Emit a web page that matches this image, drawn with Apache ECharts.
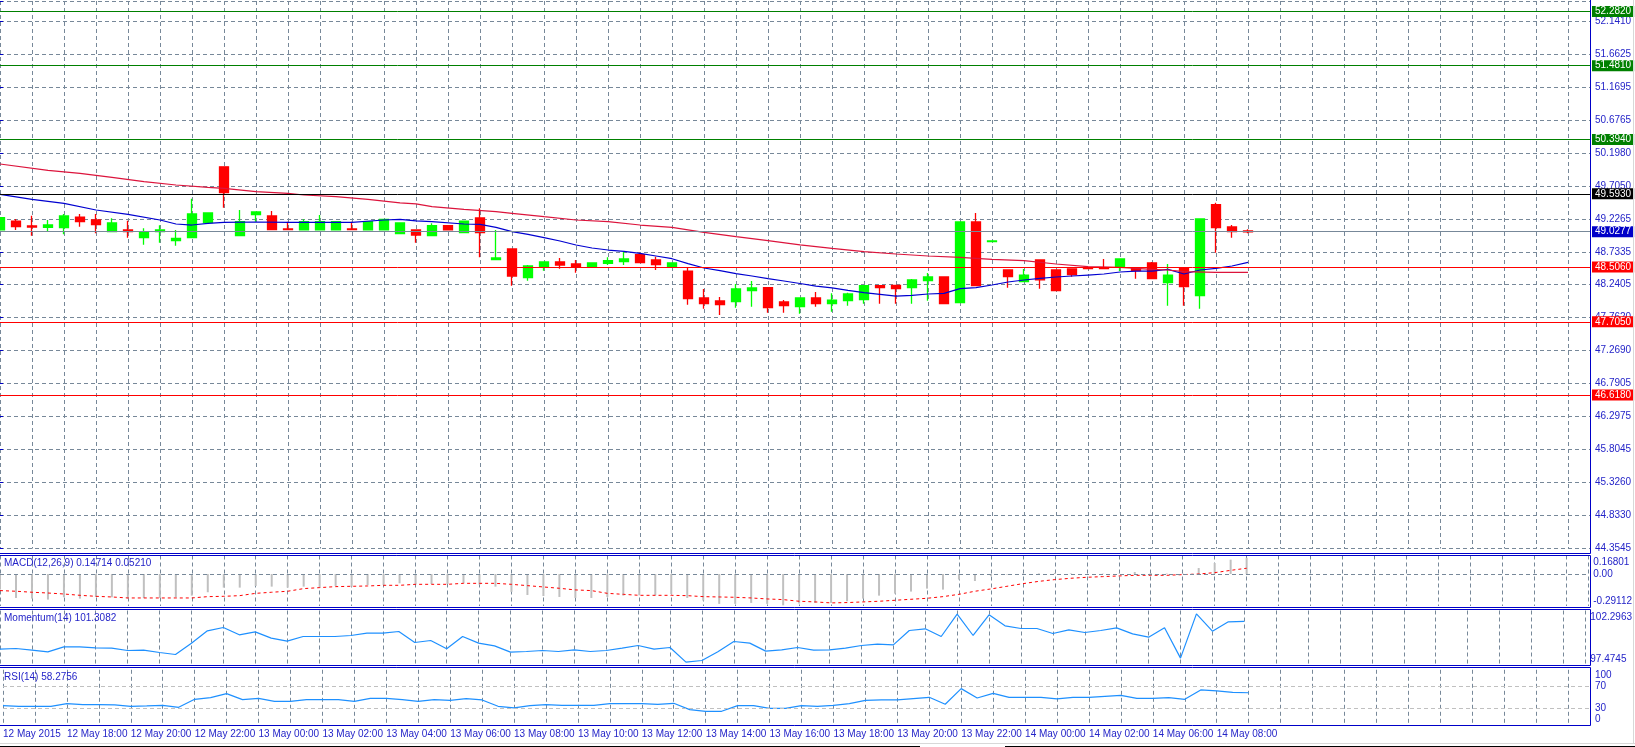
<!DOCTYPE html>
<html><head><meta charset="utf-8">
<script src="https://cdn.jsdelivr.net/npm/echarts@6/dist/echarts.min.js"></script>
<style>html,body{margin:0;padding:0;background:#fff;overflow:hidden}#c{width:1635px;height:747px}</style>
</head><body><div id="c"></div>
<script>
// ---------- data ----------
const xTickLabels = ['12 May 2015','12 May 18:00','12 May 20:00','12 May 22:00','13 May 00:00','13 May 02:00','13 May 04:00','13 May 06:00','13 May 08:00','13 May 10:00','13 May 12:00','13 May 14:00','13 May 16:00','13 May 18:00','13 May 20:00','13 May 22:00','14 May 00:00','14 May 02:00','14 May 06:00','14 May 08:00'];
const yTickLabels = ['44.3545','44.8330','45.3260','45.8045','46.2975','46.7905','47.2690','47.7620','48.2405','48.7335','49.2265','49.7050','50.1980','50.6765','51.1695','51.6625','52.1410'];
const opens  = [49.056,49.188,49.115,49.095,49.090,49.247,49.203,49.031,49.056,48.942,49.031,48.898,48.942,49.164,49.988,48.972,49.282,49.262,49.070,49.056,49.056,49.056,49.070,49.056,49.056,49.001,49.056,48.972,49.120,49.016,49.233,48.618,48.775,48.352,48.505,48.583,48.554,48.510,48.564,48.588,48.692,48.613,48.505,48.450,48.052,48.008,47.998,48.160,48.205,47.993,47.924,48.052,47.968,48.012,48.027,48.234,48.239,48.205,48.308,48.362,47.983,49.174,48.883,48.465,48.293,48.613,48.465,48.480,48.500,48.500,48.514,48.500,48.569,48.278,48.500,48.086,49.430,49.100,49.041];
const closes = [49.238,49.105,49.100,49.130,49.262,49.179,49.134,49.159,49.031,49.021,49.056,48.933,49.292,49.307,49.607,49.179,49.321,49.061,49.061,49.179,49.179,49.179,49.061,49.179,49.213,49.159,48.982,49.120,49.056,49.188,49.016,48.642,48.377,48.524,48.583,48.539,48.505,48.569,48.603,48.628,48.573,48.544,48.569,48.042,47.968,47.954,48.185,48.200,47.909,47.939,48.052,47.968,48.022,48.111,48.234,48.205,48.190,48.318,48.362,47.968,49.174,48.234,48.893,48.367,48.391,48.318,48.160,48.396,48.485,48.485,48.628,48.455,48.337,48.391,48.219,49.218,49.090,49.031,49.0277];
const lows   = [49.040,49.056,48.972,49.031,48.992,49.105,49.006,49.026,48.942,48.839,48.869,48.824,48.935,49.160,49.385,48.970,49.179,49.060,49.060,49.055,49.055,49.055,49.060,49.055,49.055,49.000,48.869,48.971,49.055,49.015,48.652,48.617,48.234,48.308,48.455,48.485,48.426,48.509,48.539,48.539,48.572,48.465,48.504,47.954,47.894,47.801,47.909,47.924,47.835,47.835,47.821,47.924,47.850,47.939,47.968,47.968,47.968,47.968,48.012,47.967,47.982,48.233,48.882,48.205,48.292,48.190,48.159,48.367,48.484,48.484,48.450,48.337,48.336,47.939,47.939,47.894,48.721,48.942,49.006];
const highs  = [49.245,49.218,49.267,49.203,49.292,49.292,49.292,49.228,49.193,49.080,49.124,49.056,49.518,49.310,49.990,49.351,49.322,49.336,49.179,49.213,49.277,49.180,49.179,49.180,49.214,49.160,49.057,49.154,49.121,49.189,49.375,49.056,48.778,48.539,48.584,48.642,48.613,48.578,48.652,48.736,48.721,48.662,48.570,48.505,48.185,48.067,48.259,48.303,48.206,48.022,48.053,48.140,48.121,48.131,48.235,48.235,48.240,48.332,48.421,48.363,49.175,49.307,48.895,48.466,48.480,48.614,48.466,48.481,48.501,48.628,48.629,48.501,48.583,48.554,48.501,49.219,49.459,49.130,49.066];
const maFast = [[0,49.582],[2,49.508],[4,49.449],[6,49.351],[8,49.287],[10,49.203],[11,49.144],[12,49.129],[13,49.154],[14,49.169],[16,49.174],[18,49.169],[20,49.169],[22,49.169],[24,49.203],[25,49.213],[26,49.190],[27,49.179],[29,49.144],[30,49.139],[31,49.095],[32,49.031],[33,48.992],[34,48.942],[35,48.893],[36,48.834],[37,48.790],[38,48.760],[39,48.741],[40,48.711],[41,48.672],[42,48.632],[43,48.559],[44,48.495],[45,48.455],[46,48.411],[47,48.377],[48,48.337],[49,48.303],[50,48.266],[51,48.227],[52,48.200],[53,48.165],[54,48.131],[55,48.106],[56,48.081],[57,48.091],[58,48.111],[59,48.121],[60,48.190],[61,48.205],[62,48.244],[63,48.288],[64,48.318],[65,48.342],[66,48.362],[67,48.377],[68,48.391],[69,48.406],[70,48.436],[71,48.450],[72,48.450],[73,48.475],[74,48.406],[75,48.465],[76,48.490],[77,48.524],[78,48.578]];
const maSlow = [[0,50.030],[3,49.936],[5,49.892],[7,49.833],[9,49.769],[11,49.720],[13,49.685],[14,49.671],[16,49.621],[18,49.597],[19,49.572],[21,49.548],[23,49.508],[25,49.456],[26,49.440],[27,49.400],[29,49.361],[31,49.326],[32,49.302],[34,49.252],[36,49.203],[38,49.179],[40,49.129],[42,49.095],[44,49.021],[46,48.957],[48,48.898],[50,48.836],[52,48.785],[54,48.736],[56,48.701],[58,48.672],[60,48.652],[62,48.622],[64,48.603],[66,48.554],[68,48.514],[70,48.505],[72,48.475],[73,48.465],[74,48.441],[76,48.431],[78,48.431]];
const levelValues = [52.2820,51.4810,50.3940,49.5930,49.0277,48.5060,47.7050,46.6180];
const levelLabels = ['52.2820','51.4810','50.3940','49.5930','49.0277','48.5060','47.7050','46.6180'];
const macdHist = [-0.142,-0.218,-0.224,-0.233,-0.212,-0.224,-0.209,-0.212,-0.224,-0.218,-0.218,-0.212,-0.197,-0.166,-0.124,-0.124,-0.109,-0.115,-0.124,-0.115,-0.124,-0.109,-0.115,-0.100,-0.100,-0.085,-0.092,-0.091,-0.091,-0.082,-0.097,-0.115,-0.163,-0.191,-0.200,-0.209,-0.218,-0.218,-0.209,-0.197,-0.194,-0.194,-0.182,-0.218,-0.242,-0.272,-0.272,-0.263,-0.272,-0.285,-0.269,-0.263,-0.263,-0.248,-0.224,-0.197,-0.179,-0.160,-0.133,-0.142,-0.051,-0.064,-0.020,-0.005,0.003,0.005,0.010,0.005,-0.003,0.003,0.002,0.018,0.009,0.004,0.004,0.054,0.100,0.130,0.14714];
const macdSignal = [-0.151,-0.157,-0.166,-0.173,-0.182,-0.194,-0.203,-0.209,-0.218,-0.218,-0.218,-0.218,-0.218,-0.206,-0.203,-0.197,-0.176,-0.166,-0.157,-0.133,-0.124,-0.115,-0.112,-0.109,-0.103,-0.103,-0.094,-0.094,-0.094,-0.085,-0.085,-0.085,-0.094,-0.106,-0.118,-0.130,-0.145,-0.151,-0.176,-0.185,-0.194,-0.194,-0.194,-0.197,-0.206,-0.209,-0.212,-0.218,-0.227,-0.233,-0.248,-0.254,-0.263,-0.260,-0.254,-0.248,-0.239,-0.230,-0.221,-0.206,-0.185,-0.157,-0.136,-0.112,-0.088,-0.067,-0.051,-0.039,-0.030,-0.024,-0.018,-0.012,-0.012,-0.012,-0.006,0.000,0.012,0.033,0.0521];
const momentum = [98.813,98.873,98.723,98.573,99.023,99.023,98.933,98.903,98.693,98.723,98.513,98.333,99.353,100.465,100.765,100.104,100.374,99.804,99.533,99.954,99.954,99.954,100.044,100.254,100.254,100.404,99.413,99.594,98.843,99.954,99.353,99.113,98.543,98.603,98.693,98.603,98.753,98.603,98.693,98.903,99.143,98.813,98.963,97.642,97.792,98.573,99.504,99.353,98.633,98.753,98.963,98.723,98.753,98.903,99.143,99.263,99.203,100.495,100.645,99.954,101.966,100.044,101.906,100.915,100.675,100.675,100.224,100.555,100.314,100.495,100.735,100.194,99.894,100.735,98.002,101.996,100.435,101.275,101.3082];
const rsi = [34.85,33.64,33.64,33.64,38.48,36.67,36.67,36.06,33.64,34.24,35.45,31.82,46.36,49.39,56.67,45.76,48.18,42.73,42.73,45.76,45.76,45.76,42.73,48.18,48.18,45.76,42.73,45.76,44.55,47.58,45.15,33.64,30.61,34.85,36.67,35.45,35.45,35.45,38.48,38.48,38.48,37.27,39.09,27.58,24.55,24.55,34.85,34.85,30.00,30.00,34.85,33.64,35.45,38.48,44.55,45.15,45.15,47.58,50.00,37.27,65.76,48.79,57.27,50.00,50.00,50.00,46.97,50.00,50.00,51.82,53.64,48.18,48.18,49.39,46.36,63.33,61.52,59.09,58.28];
const macdRange = [-0.29112, 0.16801];
const momRange = [97.4745, 102.2963];
const rsiLevels = [30, 70];
const titles = ['MACD(12,26,9) 0.14714 0.05210', 'Momentum(14) 101.3082', 'RSI(14) 58.2756'];

// ---------- styles / layout ----------
const FONT = 'Liberation Sans';
const FS = 10;
const TXT = '#2424c8';
const BORDER = '#0000c8';
const GRIDC = '#778899';
const levelColors = ['#008000','#008000','#008000','#000000','#0000c8','#ff0000','#ff0000','#ff0000'];
const levelLineColors = ['#008000','#008000','#008000','#000000','#778899','#ff0000','#ff0000','#ff0000'];
const XMAX = 99.375;
const yMin = 44.3545, yStep = (52.1410 - 44.3545) / 16;
const mainTop = 1, mainBottomY = 548.5;
const pxPerUnit = 67.75;
const yMax = yMin + (mainBottomY - mainTop) / pxPerUnit;

const candleData = opens.map((o, i) => [i, o, closes[i], lows[i], highs[i]]);
const idx = opens.map((_, i) => i);

const chart = echarts.init(document.getElementById('c'), null, {renderer: 'canvas'});
const grids = [
  {left: 0, right: 45, top: mainTop, height: mainBottomY - mainTop},
  {left: 0, right: 45, top: 555.5, height: 50.5},
  {left: 0, right: 45, top: 610.5, height: 53.5},
  {left: 0, right: 45, top: 669.8, height: 55}
];
function xAx(i, showLabels) {
  return {
    type: 'value', gridIndex: i, min: 0, max: XMAX, interval: 2,
    axisLine: {show: false}, axisTick: {show: false},
    splitLine: {show: true, lineStyle: {color: GRIDC, type: [4, 3], width: 1}},
    axisLabel: showLabels ? {
      show: true, align: 'left', margin: 4, fontFamily: FONT, fontSize: FS, color: TXT,
      showMinLabel: true, showMaxLabel: true,
      formatter: v => {
        const r = Math.round(v);
        if (Math.abs(v - r) < 1e-6 && r % 4 === 0 && r / 4 < xTickLabels.length) return xTickLabels[r / 4];
        return '';
      }
    } : {show: false}
  };
}
const lab = {fontFamily: FONT, fontSize: FS, color: TXT};
const rich = {t: {...lab, padding: [14, 0, 0, 0]}, b: {...lab, padding: [0, 0, 10, 0]}};
function near(a, b) { return Math.abs(a - b) < 1e-7; }

const option = {
  animation: false,
  backgroundColor: '#ffffff',
  title: titles.map((t, i) => ({
    text: t, left: 4, top: [558.5, 613.5, 672][i], padding: 0,
    textStyle: {fontFamily: FONT, fontSize: FS, color: TXT, fontWeight: 'normal'}
  })),
  grid: grids,
  xAxis: [xAx(0, false), xAx(1, false), xAx(2, false), xAx(3, true)],
  yAxis: [
    {
      type: 'value', gridIndex: 0, position: 'right', min: yMin, max: yMax, interval: yStep, scale: true,
      axisLine: {show: false},
      axisTick: {show: true, length: 3, lineStyle: {color: BORDER}},
      splitLine: {show: true, lineStyle: {color: GRIDC, type: [4, 3], width: 1}},
      axisLabel: {
        ...lab, margin: 5, showMinLabel: true, showMaxLabel: true,
        formatter: v => {
          const k = Math.round((v - yMin) / yStep);
          if (k >= 0 && k < yTickLabels.length && Math.abs(v - (yMin + k * yStep)) < 1e-6) return yTickLabels[k];
          return '';
        }
      }
    },
    {
      type: 'value', gridIndex: 1, position: 'right', min: macdRange[0], max: macdRange[1], interval: -macdRange[0],
      axisLine: {show: false}, axisTick: {show: false}, splitLine: {show: false},
      axisLabel: {
        ...lab, margin: 5, showMinLabel: true, showMaxLabel: true, rich,
        formatter: v => near(v, macdRange[1]) ? '{t|0.16801}' : near(v, macdRange[0]) ? '{b|-0.29112}' : near(v, 0) ? '0.00' : ''
      }
    },
    {
      type: 'value', gridIndex: 2, position: 'right', min: momRange[0], max: momRange[1], interval: momRange[1] - momRange[0],
      axisLine: {show: false}, axisTick: {show: false}, splitLine: {show: false},
      axisLabel: {
        ...lab, margin: 5, showMinLabel: true, showMaxLabel: true, rich,
        formatter: v => near(v, momRange[1]) ? '{t|102.2963}' : near(v, momRange[0]) ? '{b|97.4745}' : ''
      }
    },
    {
      type: 'value', gridIndex: 3, position: 'right', min: 0, max: 100, interval: 10,
      axisLine: {show: false}, axisTick: {show: false}, splitLine: {show: false},
      axisLabel: {
        ...lab, margin: 5, showMinLabel: true, showMaxLabel: true,
        rich: {t: {...lab, padding: [11, 0, 0, 0]}, b: {...lab, padding: [0, 0, 11, 0]}},
        formatter: v => v === 100 ? '{t|100}' : v === 0 ? '{b|0}' : (v === 70 || v === 30) ? String(v) : ''
      }
    }
  ],
  series: [
    {
      type: 'candlestick', xAxisIndex: 0, yAxisIndex: 0,
      data: candleData, encode: {x: 0, y: [1, 2, 3, 4]},
      barWidth: 10,
      itemStyle: {color: '#00ff00', color0: '#ff0000', borderColor: '#00ff00', borderColor0: '#ff0000', borderWidth: 1.3},
      markLine: {
        silent: true, symbol: ['none', 'none'], animation: false,
        data: levelValues.map((v, i) => ({
          yAxis: v,
          lineStyle: {color: levelLineColors[i], type: 'solid', width: 1},
          label: {
            show: true, position: 'end', distance: 2, formatter: levelLabels[i],
            fontFamily: FONT, fontSize: FS, color: '#ffffff', backgroundColor: levelColors[i],
            padding: [1, 3, 0, 3]
          }
        }))
      },
      z: 3
    },
    {type: 'line', xAxisIndex: 0, yAxisIndex: 0, data: maFast, showSymbol: false, lineStyle: {color: '#0000d0', width: 1.2}, z: 4},
    {type: 'line', xAxisIndex: 0, yAxisIndex: 0, data: maSlow, showSymbol: false, lineStyle: {color: '#dc143c', width: 1.2}, z: 4},
    {
      type: 'bar', xAxisIndex: 1, yAxisIndex: 1, data: idx.map(i => [i, macdHist[i]]),
      barWidth: 2, itemStyle: {color: '#c0c0c0'}, z: 2
    },
    {
      type: 'line', xAxisIndex: 1, yAxisIndex: 1, data: idx.map(i => [i, macdSignal[i]]),
      showSymbol: false, lineStyle: {color: '#ff0000', width: 1, type: [3, 3]}, z: 3,
      markLine: {
        silent: true, symbol: ['none', 'none'], label: {show: false},
        data: [{yAxis: 0}], lineStyle: {color: GRIDC, type: [4, 3], width: 1}
      }
    },
    {type: 'line', xAxisIndex: 2, yAxisIndex: 2, data: idx.map(i => [i, momentum[i]]), showSymbol: false, lineStyle: {color: '#1e90ff', width: 1.2}},
    {
      type: 'line', xAxisIndex: 3, yAxisIndex: 3, data: idx.map(i => [i, rsi[i]]), showSymbol: false, lineStyle: {color: '#1e90ff', width: 1.2},
      markLine: {
        silent: true, symbol: ['none', 'none'], label: {show: false},
        data: rsiLevels.map(v => ({yAxis: v})), lineStyle: {color: '#c0c0c0', type: [4, 3], width: 1}
      }
    }
  ],
  graphic: [
    {type: 'rect', shape: {x: -2, y: -2, width: 1592.5, height: 555.5}, style: {fill: 'none', stroke: BORDER, lineWidth: 1}, z: 100, silent: true},
    {type: 'rect', shape: {x: -2, y: 555.5, width: 1592.5, height: 52}, style: {fill: 'none', stroke: BORDER, lineWidth: 1}, z: 100, silent: true},
    {type: 'rect', shape: {x: -2, y: 609.5, width: 1592.5, height: 56}, style: {fill: 'none', stroke: BORDER, lineWidth: 1}, z: 100, silent: true},
    {type: 'rect', shape: {x: -2, y: 667.5, width: 1592.5, height: 58}, style: {fill: 'none', stroke: BORDER, lineWidth: 1}, z: 100, silent: true},
    {type: 'line', shape: {x1: 0, y1: 743.5, x2: 1635, y2: 743.5}, style: {stroke: '#d8d8d8', lineWidth: 1}, z: 100, silent: true},
    {type: 'line', shape: {x1: 1633.5, y1: 0, x2: 1633.5, y2: 744}, style: {stroke: '#d8d8d8', lineWidth: 1}, z: 100, silent: true},
    {type: 'line', shape: {x1: 0, y1: 746.5, x2: 920, y2: 746.5}, style: {stroke: '#000000', lineWidth: 1}, z: 100, silent: true},
    {type: 'line', shape: {x1: 1005, y1: 746.5, x2: 1635, y2: 746.5}, style: {stroke: '#000000', lineWidth: 1}, z: 100, silent: true}
  ]
};
chart.setOption(option);
</script>
</body></html>
